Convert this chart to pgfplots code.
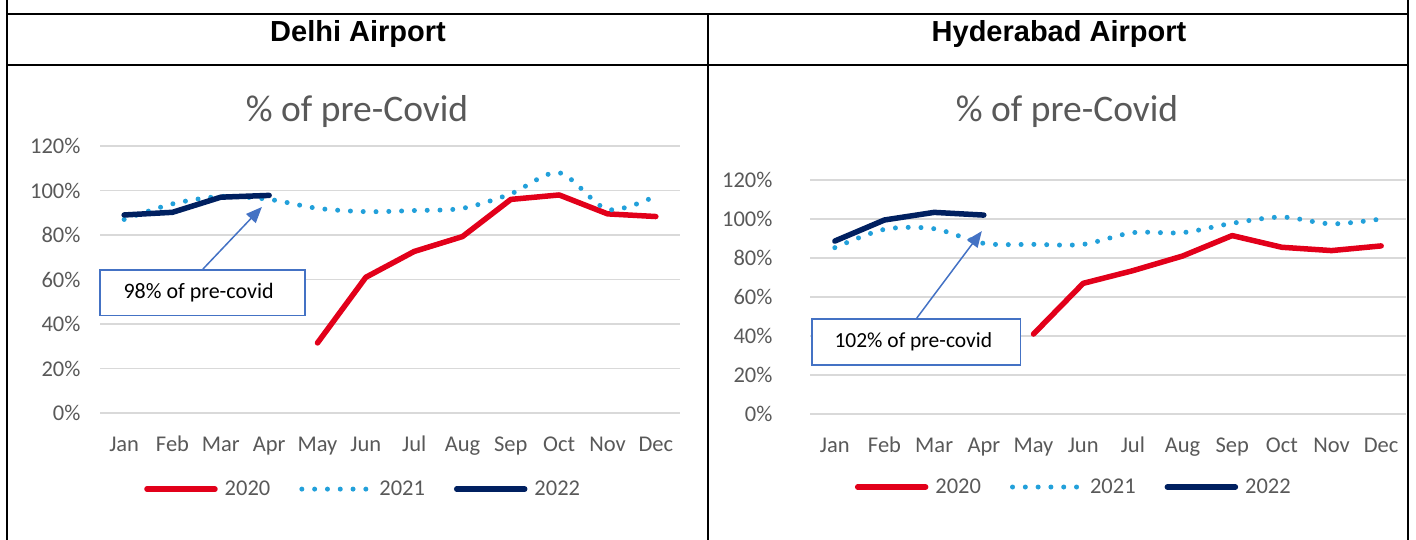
\documentclass[border=0pt]{standalone}
\usepackage{fontspec}
\setmainfont{Carlito}
\newfontfamily\arialfont{Liberation Sans}
\usepackage{pgfplots}
\pgfplotsset{compat=1.18}
\usetikzlibrary{arrows.meta}
\definecolor{cRed}{HTML}{E2001A}
\definecolor{cBlue}{HTML}{22A0DA}
\definecolor{cNavy}{HTML}{002060}
\definecolor{cGrid}{HTML}{D9D9D9}
\definecolor{cText}{HTML}{595959}
\definecolor{cAnn}{HTML}{4472C4}

\pgfplotsset{
  mychart/.style={
    scale only axis,
    anchor=south west,
    xmin=0.5, xmax=12.5, ymin=0, ymax=120,
    xtick={1,...,12},
    xticklabels={Jan,Feb,Mar,Apr,May,Jun,Jul,Aug,Sep,Oct,Nov,Dec},
    ytick={0,20,40,60,80,100,120},
    yticklabels={0\%,20\%,40\%,60\%,80\%,100\%,120\%},
    axis line style={draw=none},
    major tick length=0pt,
    ymajorgrids,
    grid style={color=cGrid, line width=1.6pt},
    tick label style={font=\fontsize{22.5}{26}\selectfont, text=cText},
    yticklabel style={xshift=-16pt},
    xticklabel style={yshift=-28pt, text height=0.72em, text depth=0.22em},
    clip=false,
    legend columns=3,
    legend style={draw=none, fill=none, font=\fontsize{22.5}{26}\selectfont, text=cText,
      anchor=center, inner sep=0pt,
      nodes={inner sep=0pt},
      /tikz/every odd column/.append style={column sep=7pt},
      /tikz/every even column/.append style={column sep=29pt}},
    legend image code/.code={\draw[##1] (0pt,0pt) -- (68pt,0pt);},
  },
  s2020/.style={color=cRed, line width=5.5pt, line cap=round, line join=round},
  s2021/.style={color=cBlue, line width=5pt, line cap=round, dash pattern=on 0pt off 12.8pt, smooth, tension=0.5},
  s2022/.style={color=cNavy, line width=5.5pt, line cap=round, line join=round},
}

\begin{document}
\begin{tikzpicture}[x=1pt,y=1pt]
\path[use as bounding box] (0,0) rectangle (1416,-540);
% table borders
\draw[line width=2pt] (7,-14) -- (1409,-14);
\draw[line width=2pt] (7,-65) -- (1409,-65);
\draw[line width=2pt] (7,0) -- (7,-540);
\draw[line width=2pt] (1408,0) -- (1408,-540);
\draw[line width=2pt] (708,-14) -- (708,-540);
\node[font=\arialfont\bfseries\fontsize{29}{34}\selectfont] at (358,-34) {Delhi Airport};
\node[font=\arialfont\bfseries\fontsize{29}{34}\selectfont] at (1059,-34) {Hyderabad Airport};
\node[font=\fontsize{37.5}{44}\selectfont, text=cText] at (357,-112) {\% of pre-Covid};
\node[font=\fontsize{37.5}{44}\selectfont, text=cText] at (1067,-112) {\% of pre-Covid};

% ---------------- Delhi ----------------
\begin{axis}[mychart, at={(100pt,-413pt)}, width=580pt, height=267pt,
  legend style={at={(axis description cs:0.452,-0.285)}}]
\addplot[s2020] coordinates {(5,31.5) (6,61) (7,72.6) (8,79.3) (9,96) (10,98) (11,89.5) (12,88.3)};
\addlegendentry{2020}
\addplot[s2021] coordinates {(1,87) (2,94) (3,97.3) (4,96) (5,92) (6,90.5) (7,91) (8,92) (9,98.5) (10,108) (11,91.5) (12,97.5)};
\addlegendentry{2021}
\addplot[s2022] coordinates {(1,89) (2,90.2) (3,97) (4,97.8)};
\addlegendentry{2022}
\draw[cAnn, line width=1.2pt, fill=white] (axis cs:0.5,64.3) rectangle (axis cs:4.74,44);
\node[anchor=west, font=\fontsize{22}{26}\selectfont, text=black] at (axis cs:0.5,54) [xshift=20pt] {98\% of pre-covid};
\draw[cAnn, line width=1.5pt, -{Triangle[length=16pt,width=13pt]}] (axis cs:2.63,64.7) -- (axis cs:3.85,92.6);
\end{axis}

% ---------------- Hyderabad ----------------
\begin{axis}[mychart, at={(810pt,-414pt)}, width=596pt, height=234pt,
  yticklabel style={xshift=-18pt},
  legend style={at={(axis description cs:0.441,-0.312)}}]
\addplot[s2020] coordinates {(5,41) (6,67) (7,73.5) (8,81) (9,91.5) (10,85.5) (11,83.8) (12,86.2)};
\addlegendentry{2020}
\addplot[s2021] coordinates {(1,85.3) (2,94.7) (3,95) (4,87.5) (5,87) (6,87) (7,93) (8,93) (9,97.8) (10,101) (11,97.5) (12,100)};
\addlegendentry{2021}
\addplot[s2022] coordinates {(1,88.7) (2,99.5) (3,103.4) (4,102)};
\addlegendentry{2022}
\draw[cAnn, line width=1.2pt, fill=white] (axis cs:0.54,48.7) rectangle (axis cs:4.73,25.1);
\node[anchor=west, font=\fontsize{21.5}{26}\selectfont, text=black] at (axis cs:0.54,37) [xshift=19pt] {102\% of pre-covid};
\draw[cAnn, line width=1.5pt, -{Triangle[length=16pt,width=13pt]}] (axis cs:2.65,49.2) -- (axis cs:3.96,93.8);
\end{axis}
\end{tikzpicture}
\end{document}
